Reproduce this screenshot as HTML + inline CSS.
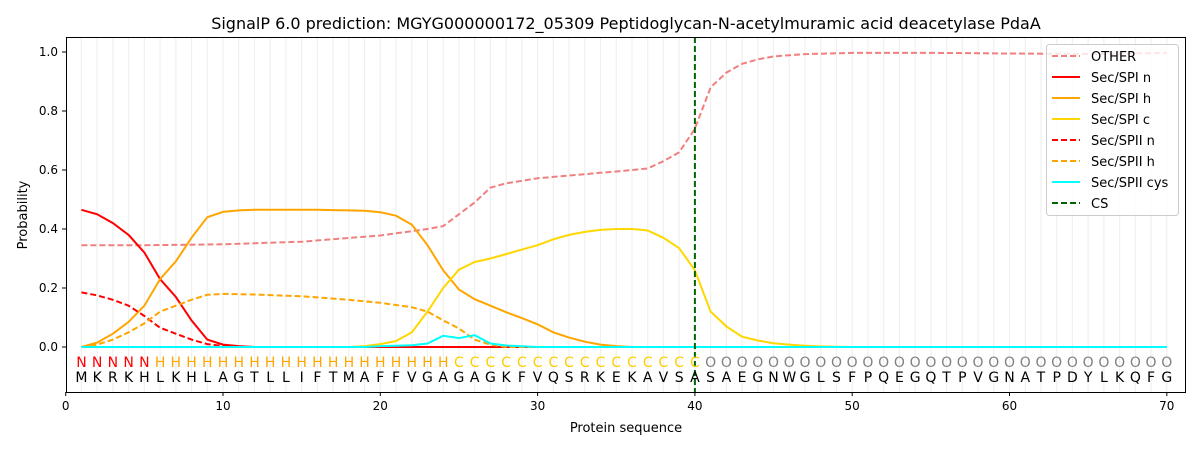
<!DOCTYPE html>
<html><head><meta charset="utf-8"><style>
body{margin:0;background:#fff}
svg{display:block;font-family:"DejaVu Sans","Liberation Sans",sans-serif}
</style></head><body>
<svg id="s" width="1200" height="450" viewBox="0 0 1200 450">
<rect width="1200" height="450" fill="#fff"/>
<g id="grid"></g>
<g id="lines"></g>
<path d="M66.5 37.5 H1185.5 V392.5 H66.5 Z" fill="none" stroke="#000" stroke-width="1"/>
<text x="626" y="29" font-size="16" text-anchor="middle">SignalP 6.0 prediction: MGYG000000172_05309 Peptidoglycan-N-acetylmuramic acid deacetylase PdaA</text>
<g font-size="14" text-anchor="middle">
<text fill="#ff0000" y="367" x="81.43 97.16 112.89 128.62 144.35">NNNNN</text>
<text fill="#ffa500" y="367" x="160.08 175.81 191.54 207.27 223.0 238.73 254.46 270.19 285.92 301.65 317.38 333.11 348.84 364.57 380.3 396.03 411.76 427.49 443.22">HHHHHHHHHHHHHHHHHHH</text>
<text fill="#ffcc00" y="367" x="458.95 474.68 490.41 506.14 521.87 537.6 553.33 569.06 584.79 600.52 616.25 631.98 647.71 663.44 679.17 694.9">CCCCCCCCCCCCCCCC</text>
<text fill="#808080" y="367" x="710.63 726.36 742.09 757.82 773.55 789.28 805.01 820.74 836.47 852.2 867.93 883.66 899.39 915.12 930.85 946.58 962.31 978.04 993.77 1009.5 1025.23 1040.96 1056.69 1072.42 1088.15 1103.88 1119.61 1135.34 1151.07 1166.8">OOOOOOOOOOOOOOOOOOOOOOOOOOOOOO</text>
<text fill="#000" y="382" x="81.43 97.16 112.89 128.62 144.35 160.08 175.81 191.54 207.27 223.0 238.73 254.46 270.19 285.92 301.65 317.38 333.11 348.84 364.57 380.3 396.03 411.76 427.49 443.22 458.95 474.68 490.41 506.14 521.87 537.6 553.33 569.06 584.79 600.52 616.25 631.98 647.71 663.44 679.17 694.9 710.63 726.36 742.09 757.82 773.55 789.28 805.01 820.74 836.47 852.2 867.93 883.66 899.39 915.12 930.85 946.58 962.31 978.04 993.77 1009.5 1025.23 1040.96 1056.69 1072.42 1088.15 1103.88 1119.61 1135.34 1151.07 1166.8">MKRKHLKHLAGTLLIFTMAFFVGAGAGKFVQSRKEKAVSASAEGNWGLSFPQEGQTPVGNATPDYLKQFG</text>
</g>
<g font-size="12" text-anchor="middle">
<text x="65.7" y="410">0</text><text x="223" y="410">10</text><text x="380.3" y="410">20</text><text x="537.6" y="410">30</text><text x="694.9" y="410">40</text><text x="852.2" y="410">50</text><text x="1009.5" y="410">60</text><text x="1166.8" y="410">70</text>
</g>
<g font-size="12" text-anchor="end">
<text x="58" y="351">0.0</text><text x="58" y="292">0.2</text><text x="58" y="233">0.4</text><text x="58" y="174">0.6</text><text x="58" y="115">0.8</text><text x="58" y="56">1.0</text>
</g>
<text x="626" y="432" font-size="13" text-anchor="middle">Protein sequence</text>
<text transform="translate(27,215) rotate(-90)" font-size="13" text-anchor="middle">Probability</text>
<g id="ticks" stroke="#000"></g>
<g>
<rect x="1046.5" y="44.5" width="132" height="171" rx="3" fill="#fff" fill-opacity="0.8" stroke="#ccc"/>
<g stroke-width="2">
<line x1="1052" x2="1080" y1="56" y2="56" stroke="#f08080" stroke-dasharray="6,3"/>
<line x1="1052" x2="1080" y1="77" y2="77" stroke="#ff0000"/>
<line x1="1052" x2="1080" y1="98" y2="98" stroke="#ffa500"/>
<line x1="1052" x2="1080" y1="119" y2="119" stroke="#ffd700"/>
<line x1="1052" x2="1080" y1="140" y2="140" stroke="#ff0000" stroke-dasharray="6,3"/>
<line x1="1052" x2="1080" y1="161" y2="161" stroke="#ffa500" stroke-dasharray="6,3"/>
<line x1="1052" x2="1080" y1="182" y2="182" stroke="#00ffff"/>
<line x1="1052" x2="1080" y1="203" y2="203" stroke="#006400" stroke-dasharray="6,3"/>
</g>
<g font-size="13">
<text x="1091" y="61">OTHER</text><text x="1091" y="82">Sec/SPI n</text><text x="1091" y="103">Sec/SPI h</text><text x="1091" y="124">Sec/SPI c</text><text x="1091" y="145">Sec/SPII n</text><text x="1091" y="166">Sec/SPII h</text><text x="1091" y="187">Sec/SPII cys</text><text x="1091" y="208">CS</text>
</g>
</g>
</svg>
<script>
var px=function(i){return 65.7+15.73*i},py=function(v){return 347-295*v};
var ns="http://www.w3.org/2000/svg";
function el(p,t,a){var e=document.createElementNS(ns,t);for(var k in a)e.setAttribute(k,a[k]);p.appendChild(e);return e}
var g=document.getElementById('grid');
for(var i=1;i<=70;i++)el(g,'line',{x1:px(i),x2:px(i),y1:37,y2:392,stroke:'#f0f0f0','stroke-width':1.2});
var tk=document.getElementById('ticks');
for(var i=0;i<=70;i+=10)el(tk,'line',{x1:px(i),x2:px(i),y1:392,y2:396});
for(var v=0;v<=1.001;v+=0.2)el(tk,'line',{x1:62,x2:66,y1:py(v),y2:py(v)});
function fill(pts){var a=[],k=Object.keys(pts).map(Number).sort(function(a,b){return a-b});
for(var i=1;i<=70;i++){var lo=k[0],hi=k[k.length-1];for(var j=0;j<k.length;j++){if(k[j]<=i)lo=k[j];}for(var j=k.length-1;j>=0;j--){if(k[j]>=i)hi=k[j];}
var v=(i<=lo)?pts[lo]:(i>=hi?pts[hi]:(hi==lo?pts[lo]:pts[lo]+(pts[hi]-pts[lo])*(i-lo)/(hi-lo)));a.push(px(i).toFixed(1)+','+py(v).toFixed(1));}return a.join(' ')}
var L=document.getElementById('lines');
var S=[
[{1:.345,5:.345,10:.348,15:.357,20:.378,23:.40,24:.41,25:.45,26:.49,27:.54,28:.555,30:.572,35:.595,37:.605,38:.63,39:.66,40:.74,41:.88,42:.93,43:.96,44:.975,45:.985,47:.993,50:.997,55:.997,60:.995,65:.993,70:.997},'#f08080',1],
[{1:.465,2:.45,3:.42,4:.38,5:.32,6:.23,7:.17,8:.09,9:.025,10:.008,11:.003,12:0,70:0},'#ff0000',0],
[{1:0,2:.015,3:.045,4:.085,5:.14,6:.23,7:.29,8:.37,9:.44,10:.458,11:.463,12:.465,16:.465,19:.462,20:.457,21:.445,22:.415,23:.345,24:.26,25:.195,26:.162,27:.14,28:.118,29:.098,30:.077,31:.05,32:.032,33:.018,34:.008,35:.003,36:0,70:0},'#ffa500',0],
[{1:0,18:0,19:.003,20:.01,21:.02,22:.05,23:.12,24:.2,25:.262,26:.288,27:.3,28:.315,29:.33,30:.345,31:.365,32:.38,33:.39,34:.397,35:.4,36:.4,37:.395,38:.37,39:.335,40:.26,41:.12,42:.07,43:.035,44:.022,45:.013,46:.008,47:.004,48:.002,50:0,70:0},'#ffd700',0],
[{1:.185,2:.175,3:.16,4:.14,5:.105,6:.065,7:.045,8:.025,9:.01,10:.003,12:0,70:0},'#ff0000',1],
[{1:0,2:.008,3:.025,4:.05,5:.08,6:.12,7:.14,8:.16,9:.177,10:.18,12:.178,15:.172,18:.16,20:.15,22:.135,23:.12,24:.09,25:.063,26:.025,27:.008,28:0,70:0},'#ffa500',1],
[{1:0,19:0,20:.003,22:.006,23:.012,24:.038,25:.03,26:.04,27:.012,28:.005,30:0,70:0},'#00ffff',0]];
S.forEach(function(s){el(L,'polyline',{points:fill(s[0]),fill:'none',stroke:s[1],'stroke-width':2,'stroke-dasharray':s[2]?'6,3':'none'})});
el(L,'line',{x1:px(40),x2:px(40),y1:37,y2:392,stroke:'#006400','stroke-width':2,'stroke-dasharray':'6,3'});
</script>
</body></html>
